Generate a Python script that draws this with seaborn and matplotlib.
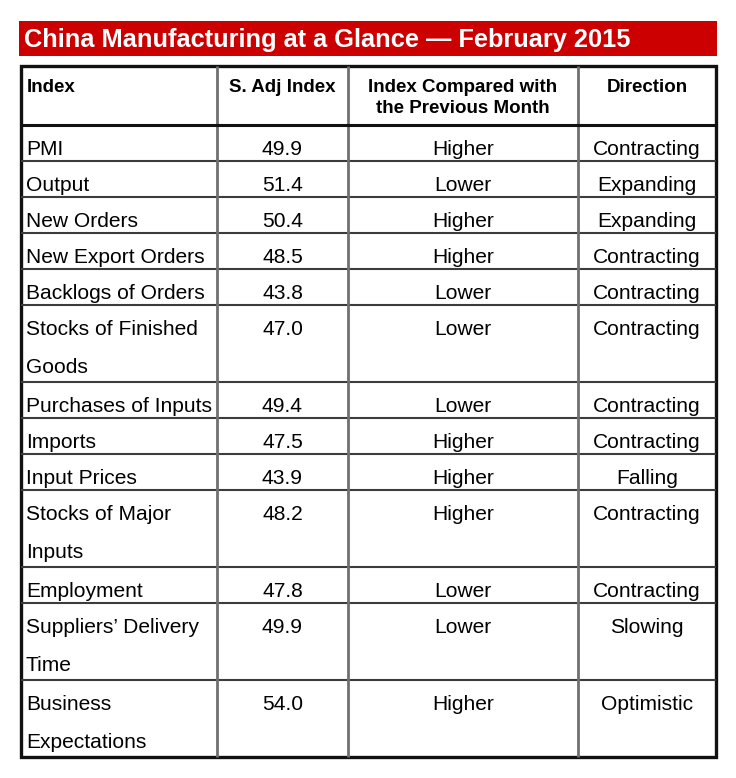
import textwrap
import pandas as pd
import matplotlib
matplotlib.use('Agg')
import matplotlib.pyplot as plt
import matplotlib.patches as patches
import seaborn as sns

pavadinimas = 'China Manufacturing at a Glance \u2014 February 2015'
stulpeliai = ['Index', 'S. Adj Index', 'Index Compared with\nthe Previous Month', 'Direction']

indeksai = ['PMI', 'Output', 'New Orders', 'New Export Orders', 'Backlogs of Orders',
            'Stocks of Finished Goods', 'Purchases of Inputs', 'Imports', 'Input Prices',
            'Stocks of Major Inputs', 'Employment', 'Suppliers\u2019 Delivery Time',
            'Business Expectations']
reiksmes = [49.9, 51.4, 50.4, 48.5, 43.8, 47.0, 49.4, 47.5, 43.9, 48.2, 47.8, 49.9, 54.0]
palyginimas = ['Higher', 'Lower', 'Higher', 'Higher', 'Lower', 'Lower', 'Lower', 'Higher',
               'Higher', 'Higher', 'Lower', 'Lower', 'Higher']
kryptis = ['Contracting', 'Expanding', 'Expanding', 'Contracting', 'Contracting', 'Contracting',
           'Contracting', 'Contracting', 'Falling', 'Contracting', 'Contracting', 'Slowing',
           'Optimistic']


def main():
    df = pd.DataFrame({'Index': indeksai, 'S. Adj Index': reiksmes,
                       'Palyginimas': palyginimas, 'Direction': kryptis})

    sns.set_theme(style='white')
    plt.rcParams['font.family'] = ['Liberation Sans', 'DejaVu Sans']
    plt.rcParams['text.color'] = 'black'

    fig = plt.figure(figsize=(7.36, 7.78), dpi=100)
    ax = fig.add_axes([0, 0, 1, 1])
    ax.set_xlim(0, 736)
    ax.set_ylim(778, 0)
    ax.axis('off')

    # raudona juosta su pavadinimu
    ax.add_patch(patches.Rectangle((19, 21), 698, 35, facecolor='#cc0000', edgecolor='none'))
    ax.text(24, 47, pavadinimas, color='white', fontsize=18.3, fontweight='bold', va='baseline')

    # stulpeliu ribos
    x_ribos = [21, 217, 348, 578, 716]
    virsus, antraste_apacia = 66, 125
    eilute, tarpas = 36, 38

    # antraste
    for i, tekstas in enumerate(stulpeliai):
        for k, dalis in enumerate(tekstas.split('\n')):
            y = virsus + 26 + 21 * k
            if i == 0:
                ax.text(x_ribos[0] + 6, y, dalis, fontsize=13.5, fontweight='bold', va='baseline')
            else:
                cx = (x_ribos[i] + x_ribos[i + 1]) / 2
                ax.text(cx, y, dalis, fontsize=13.5, fontweight='bold', va='baseline', ha='center')

    # eilutes
    y = antraste_apacia
    y_ribos = [virsus, antraste_apacia]
    for _, r in df.iterrows():
        eil = textwrap.wrap(r['Index'], 20)
        for k, dalis in enumerate(eil):
            ax.text(x_ribos[0] + 5, y + 30 + tarpas * k, dalis, fontsize=15.1, va='baseline')
        langeliai = [f"{r['S. Adj Index']:.1f}", r['Palyginimas'], r['Direction']]
        for i, tekstas in enumerate(langeliai):
            cx = (x_ribos[i + 1] + x_ribos[i + 2]) / 2
            ax.text(cx, y + 30, tekstas, fontsize=15.1, va='baseline', ha='center')
        y += eilute if len(eil) == 1 else eilute + tarpas + 3
        y_ribos.append(y)

    apacia = y_ribos[-1]
    # vidines linijos
    ax.hlines(y_ribos[2:-1], x_ribos[0], x_ribos[-1], colors='#3c3c3c', linewidth=1.5)
    ax.vlines(x_ribos[1:-1], virsus, apacia, colors='#707070', linewidth=2)
    ax.hlines([antraste_apacia], x_ribos[0], x_ribos[-1], colors='#111111', linewidth=2.2)
    # isorinis remelis
    ax.add_patch(patches.Rectangle((x_ribos[0], virsus), x_ribos[-1] - x_ribos[0], apacia - virsus,
                                   facecolor='none', edgecolor='#111111', linewidth=2.4))

    fig.savefig('out.png', dpi=100)


if __name__ == '__main__':
    main()
